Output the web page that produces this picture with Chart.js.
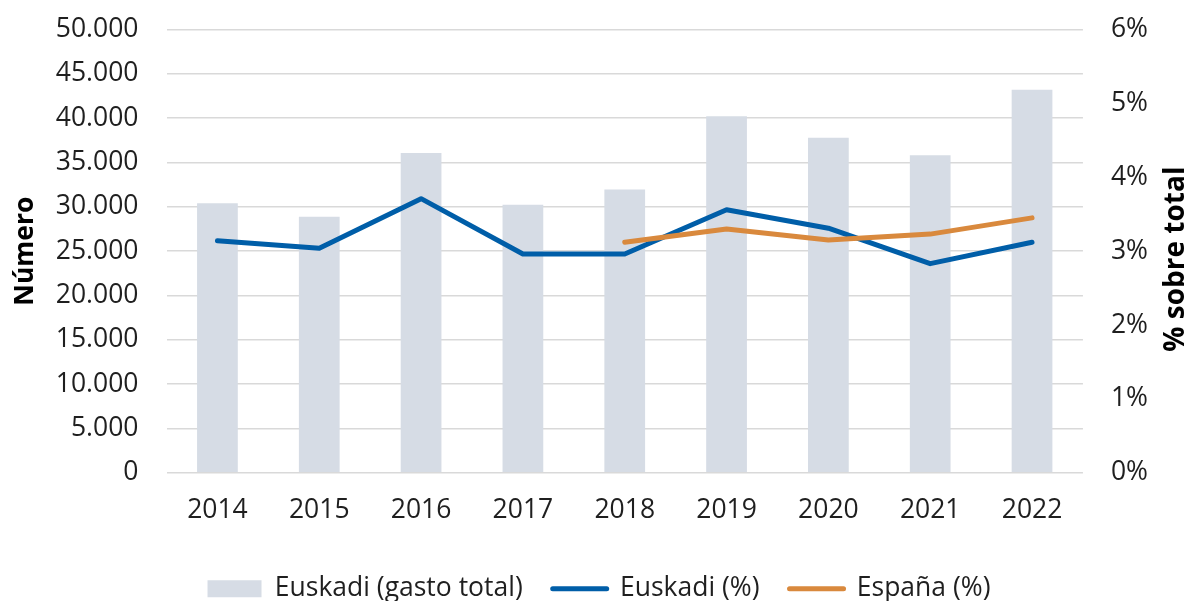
<!DOCTYPE html>
<html>
<head>
<meta charset="utf-8">
<script src="https://cdn.jsdelivr.net/npm/chart.js@4"></script>
<style>
  html, body { margin: 0; padding: 0; background: #ffffff; }
  #wrap { width: 1189px; height: 601px; position: relative; }
</style>
</head>
<body>
<div id="wrap"><canvas id="c"></canvas></div>
<script>
const years = ['2014','2015','2016','2017','2018','2019','2020','2021','2022'];
const gastoTotal = [30400, 28870, 36060, 30230, 31960, 40220, 37800, 35800, 43200];
const euskadiPct = [3.14, 3.04, 3.71, 2.96, 2.96, 3.56, 3.31, 2.83, 3.12];
const espanaPct = [null, null, null, null, 3.12, 3.30, 3.15, 3.23, 3.45];
const leftTicks = [0, 5000, 10000, 15000, 20000, 25000, 30000, 35000, 40000, 45000, 50000];
const rightTicks = [0, 1, 2, 3, 4, 5, 6];

const FONT = "'Open Sans', 'Noto Sans', sans-serif";
const TXT = '#1f1f1f';
const TICK_SIZE = 26.5;

function fmtThousands(v) {
  return String(v).replace(/\B(?=(\d{3})+(?!\d))/g, '.');
}

const rightTitlePlugin = {
  id: 'rightTitle',
  afterLayout(chart) {
    if (chart.legend) {
      chart.legend.left += 18;
      chart.legend.right += 18;
    }
  },
  afterDraw(chart) {
    const ctx = chart.ctx;
    const area = chart.chartArea;
    ctx.save();
    ctx.font = "bold 28px " + FONT;
    ctx.fillStyle = '#000000';
    ctx.textAlign = 'center';
    ctx.textBaseline = 'middle';
    ctx.translate(1176, (area.top + area.bottom) / 2 + 8);
    ctx.rotate(-Math.PI / 2);
    ctx.fillText('% sobre total', 0, 0);
    ctx.restore();
  }
};

new Chart(document.getElementById('c'), {
  data: {
    labels: years,
    datasets: [
      {
        type: 'bar',
        label: 'Euskadi (gasto total)',
        data: gastoTotal,
        backgroundColor: '#d6dce5',
        borderWidth: 0,
        yAxisID: 'y',
        barPercentage: 0.4,
        categoryPercentage: 1.0,
        order: 2
      },
      {
        type: 'line',
        label: 'Euskadi (%)',
        data: euskadiPct,
        borderColor: '#005ea8',
        backgroundColor: '#005ea8',
        borderWidth: 5,
        pointRadius: 0,
        borderCapStyle: 'round',
        borderJoinStyle: 'round',
        tension: 0,
        yAxisID: 'y1',
        order: 1
      },
      {
        type: 'line',
        label: 'España (%)',
        data: espanaPct,
        borderColor: '#d9893d',
        backgroundColor: '#d9893d',
        borderWidth: 5,
        pointRadius: 0,
        borderCapStyle: 'round',
        borderJoinStyle: 'round',
        tension: 0,
        yAxisID: 'y1',
        order: 0
      }
    ]
  },
  options: {
    responsive: true,
    maintainAspectRatio: false,
    animation: false,
    layout: { padding: { top: 29.5, left: 10, right: 37, bottom: -11 } },
    plugins: {
      tooltip: { enabled: false },
      legend: {
        position: 'bottom',
        labels: {
          sort: (a, b) => a.datasetIndex - b.datasetIndex,
          font: { family: FONT, size: TICK_SIZE },
          color: TXT,
          usePointStyle: true,
          pointStyleWidth: 54,
          boxHeight: 17,
          padding: 30,
          generateLabels(chart) {
            const items = Chart.defaults.plugins.legend.labels.generateLabels(chart);
            items.forEach(it => {
              const ds = chart.data.datasets[it.datasetIndex];
              if (ds.type === 'bar') {
                it.pointStyle = 'rect';
                it.lineWidth = 0;
                it.strokeStyle = 'rgba(0,0,0,0)';
                it.fillStyle = ds.backgroundColor;
              } else {
                it.pointStyle = 'line';
                it.lineWidth = 5;
                it.strokeStyle = ds.borderColor;
                it.lineCap = 'round';
              }
            });
            return items;
          }
        }
      }
    },
    scales: {
      x: {
        grid: { display: false, drawTicks: false },
        border: { display: false },
        ticks: { font: { family: FONT, size: TICK_SIZE }, color: TXT, padding: 22 },
        afterFit(scale) { scale.height -= 3; }
      },
      y: {
        position: 'left',
        min: 0,
        max: 50000,
        afterBuildTicks(axis) { axis.ticks = leftTicks.map(v => ({ value: v })); },
        grid: { color: '#d9d9d9', lineWidth: 1.5, drawTicks: true, tickLength: 24, tickColor: 'rgba(0,0,0,0)' },
        border: { display: false },
        ticks: {
          font: { family: FONT, size: TICK_SIZE },
          color: TXT,
          padding: 4,
          callback: v => fmtThousands(v)
        },
        title: {
          display: true,
          text: 'Número',
          font: { family: FONT, size: 26.5, weight: 'bold' },
          color: '#000000',
          padding: { top: 0, bottom: 10 }
        }
      },
      y1: {
        position: 'right',
        min: 0,
        max: 6,
        afterBuildTicks(axis) { axis.ticks = rightTicks.map(v => ({ value: v })); },
        grid: { display: true, drawOnChartArea: false, drawTicks: true, tickLength: 24, tickColor: 'rgba(0,0,0,0)' },
        border: { display: false },
        ticks: {
          font: { family: FONT, size: TICK_SIZE },
          color: TXT,
          padding: 4,
          callback: v => v + '%'
        }
      }
    }
  },
  plugins: [rightTitlePlugin]
});
</script>
</body>
</html>
